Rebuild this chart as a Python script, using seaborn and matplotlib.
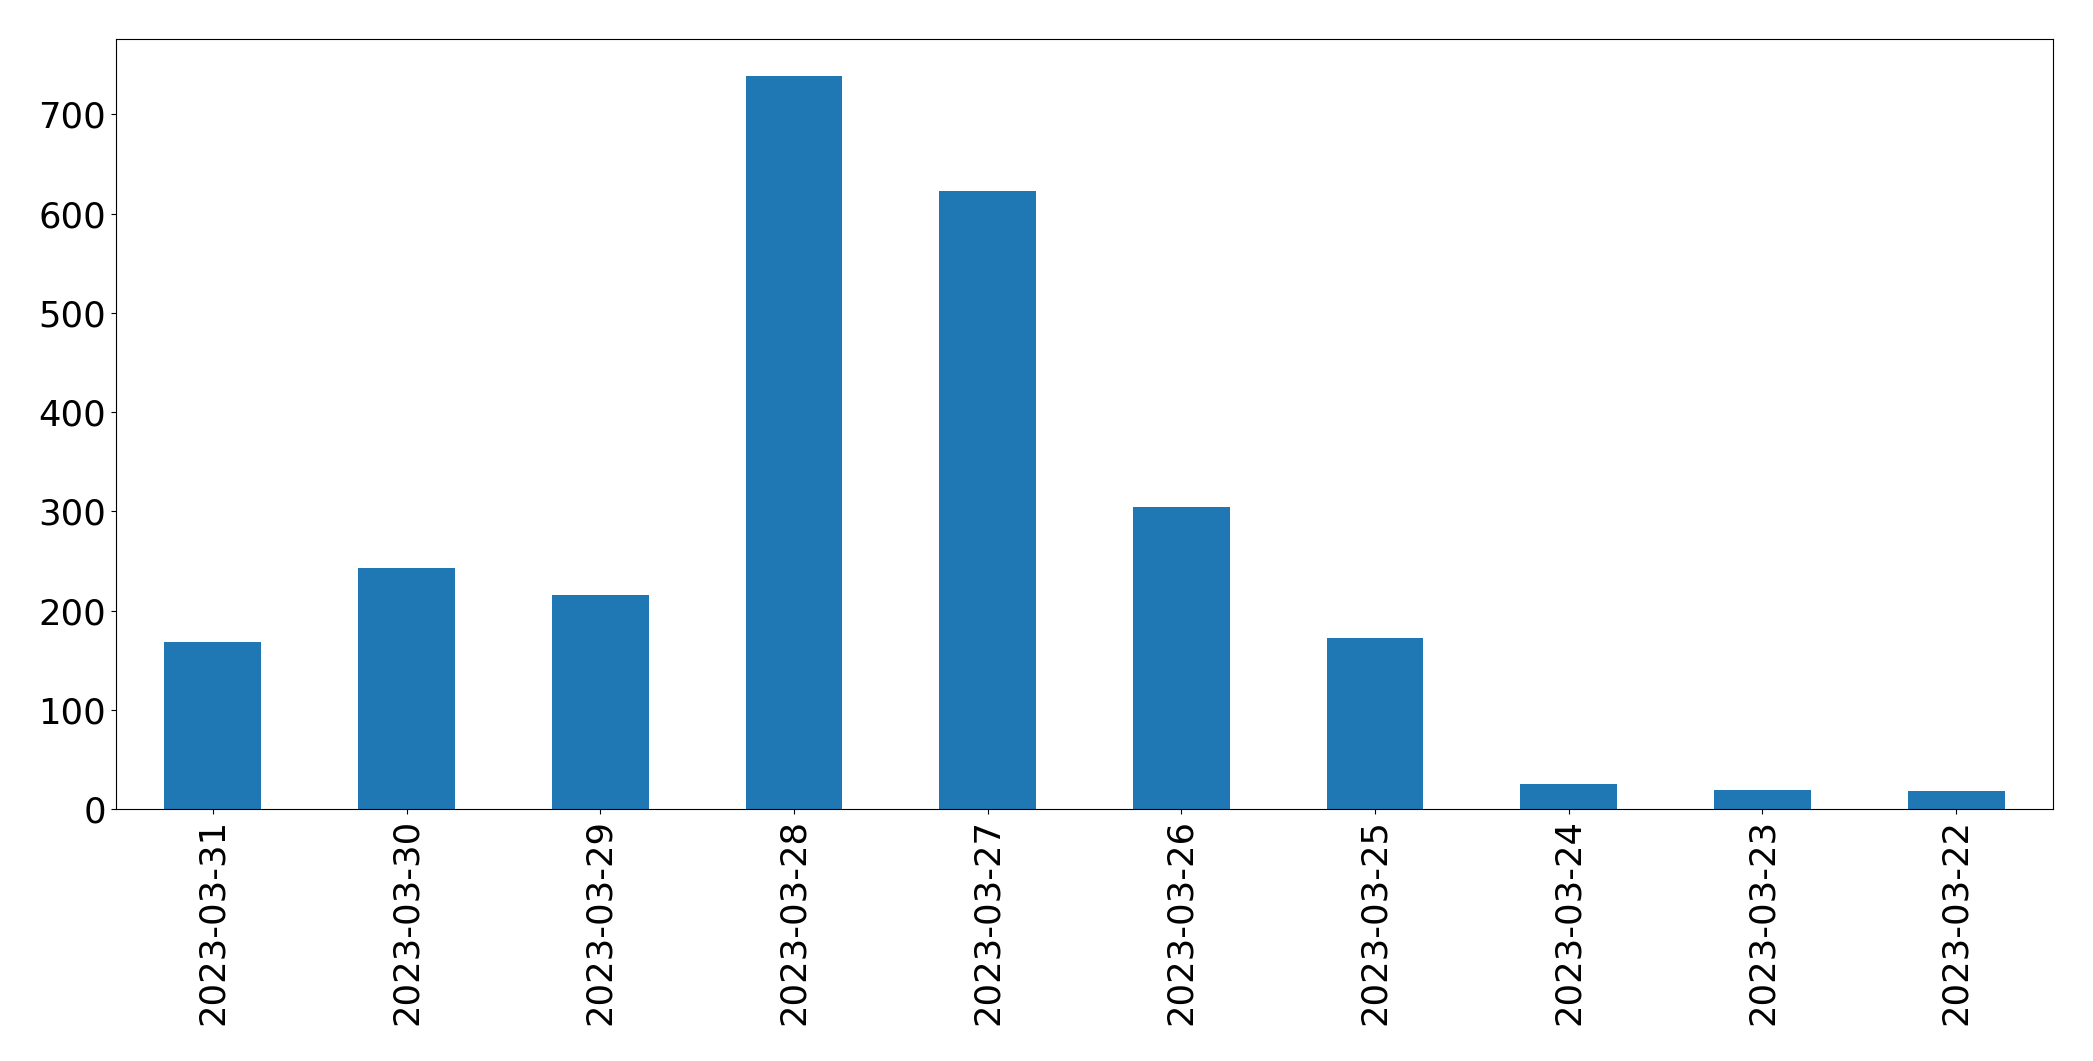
import matplotlib
matplotlib.use("Agg")
import matplotlib.pyplot as plt
import seaborn as sns
import pandas as pd

dates = ["2023-03-31", "2023-03-30", "2023-03-29", "2023-03-28", "2023-03-27",
         "2023-03-26", "2023-03-25", "2023-03-24", "2023-03-23", "2023-03-22"]
counts = [168, 243, 216, 739, 623, 304, 172, 25, 19, 18]

df = pd.DataFrame({"date": dates, "count": counts})

fig, ax = plt.subplots(figsize=(20.93, 10.61), dpi=100)
sns.barplot(data=df, x="date", y="count", order=dates, color="#1f77b4",
            saturation=1, width=0.5, linewidth=0, ax=ax)

ax.set_xlim(-0.5, len(dates) - 0.5)
ax.set_ylim(0, 776)
ax.set_xlabel("")
ax.set_ylabel("")
ax.tick_params(axis="both", labelsize=25.5)
ax.tick_params(axis="x", labelrotation=90)
for s in ax.spines.values():
    s.set_color("black")

fig.subplots_adjust(left=116 / 2093, right=2053 / 2093, top=1 - 39 / 1061, bottom=1 - 809 / 1061)
fig.savefig("out.png", dpi=100)
